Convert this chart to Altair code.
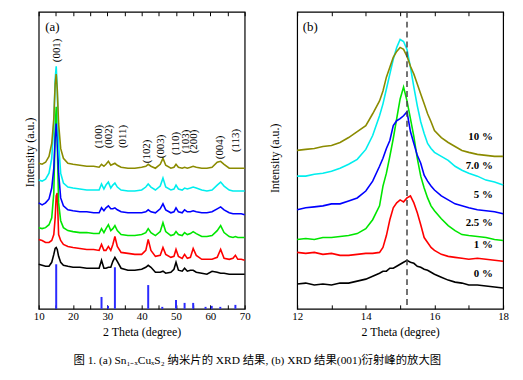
import altair as alt
import pandas as pd

FONT = "Liberation Serif"
CJK = "Liberation Serif, 'Noto Sans CJK SC'"

SERIES = ["0 %", "1 %", "2.5 %", "5 %", "7.0 %", "10 %"]
COLORS = ["#000000", "#ff0000", "#00e600", "#0000ff", "#00eeee", "#8b8b00"]

# ---------------- panel (a): full XRD patterns ----------------
A_X = [10, 11, 12, 13, 13.8, 14.4, 14.8, 15.1, 15.4, 15.8,
       16.4, 17.2, 18.5, 20, 22, 24, 26, 27.6, 28.3, 29.0,
       29.6, 30.3, 31.0, 31.6, 32.2, 32.9, 34, 36, 38, 40,
       41.2, 41.9, 42.7, 44, 45.4, 46.2, 47.0, 48.5, 49.4, 50.0,
       50.7, 51.8, 52.5, 53.3, 54.2, 55.0, 55.9, 57.5, 59, 60.5,
       62.0, 63.0, 64.0, 65.5, 66.6, 67.3, 68.0, 69, 70]
A_0 = [45, 44, 43, 43, 47, 55, 61, 62, 60, 53,
       47, 44, 43, 42, 42, 41, 41, 41, 49, 41,
       41, 42, 42, 48, 52, 48, 41, 39, 39, 40,
       42, 44, 42, 37, 37, 38, 36, 37, 40, 47,
       39, 38, 41, 38, 39, 39, 37, 36, 35, 38,
       37, 36, 36, 35, 35, 35, 35, 35, 35]
A_1 = [70, 69, 67, 67, 69, 75, 92, 114, 117, 75,
       69, 65, 63, 62, 61, 60, 60, 59, 65, 59,
       59, 63, 59, 65, 73, 63, 57, 56, 55, 55,
       59, 70, 59, 53, 54, 62, 55, 52, 53, 60,
       53, 51, 55, 51, 52, 61, 54, 50, 50, 50,
       52, 60, 51, 50, 51, 54, 50, 50, 49]
A_2 = [82, 81, 82, 85, 92, 117, 182, 204, 167, 107,
       89, 82, 79, 78, 77, 77, 76, 76, 81, 77,
       81, 85, 79, 81, 84, 79, 75, 74, 74, 75,
       77, 81, 77, 74, 78, 87, 78, 74, 75, 78,
       75, 74, 77, 75, 76, 78, 76, 73, 73, 74,
       79, 84, 77, 73, 72, 73, 72, 72, 72]
A_3 = [107, 105, 107, 111, 122, 142, 172, 187, 172, 137,
       112, 104, 100, 99, 98, 98, 97, 97, 102, 99,
       102, 104, 101, 101, 102, 100, 98, 97, 97, 97,
       98, 100, 98, 97, 101, 106, 100, 97, 98, 102,
       98, 97, 100, 98, 98, 99, 98, 97, 97, 98,
       101, 103, 100, 97, 96, 96, 96, 96, 95]
A_4 = [130, 129, 131, 137, 152, 187, 232, 245, 222, 167,
       137, 127, 123, 122, 121, 120, 120, 120, 126, 121,
       125, 128, 122, 125, 127, 123, 120, 119, 119, 120,
       123, 126, 123, 120, 124, 132, 123, 120, 121, 125,
       121, 120, 122, 121, 122, 123, 122, 120, 119, 120,
       125, 128, 124, 120, 119, 119, 119, 119, 119]
A_5 = [147, 146, 148, 154, 167, 192, 227, 237, 222, 187,
       162, 152, 147, 146, 145, 144, 144, 143, 146, 144,
       146, 149, 145, 146, 147, 145, 143, 142, 142, 143,
       144, 146, 144, 142, 146, 152, 145, 142, 143, 146,
       143, 142, 143, 142, 143, 144, 143, 142, 142, 143,
       148, 149, 146, 142, 142, 142, 142, 142, 142]

# reference (standard card) sticks
STICK_X = [15.1, 28.3, 30.2, 32.2, 41.9, 46.0, 50.0, 52.5, 55.0, 58.6, 60.4, 62.9, 67.3]
STICK_H = [45, 12, 3, 42, 24, 2, 9, 6, 6, 2, 3, 2, 4]

# Miller index labels
HKL = ["(001)", "(100)", "(002)", "(011)", "(102)", "(003)", "(110)", "(103)", "(200)", "(004)", "(113)"]
HKL_X = [15.2, 27.7, 30.6, 34.5, 41.6, 45.6, 50.0, 52.9, 55.2, 62.8, 67.4]
HKL_Y = [261, 174, 174, 174, 159, 164, 167, 169, 169, 163, 170]

# ---------------- panel (b): (001) peak zoom ----------------
B_X = [12.0, 12.25, 12.5, 12.75, 13.0, 13.25, 13.5, 13.75, 14.0, 14.2, 14.4,
       14.5, 14.6, 14.7, 14.8, 14.9, 15.0, 15.1, 15.2, 15.3, 15.4, 15.5, 15.6, 15.7, 15.8, 15.9,
       16.0, 16.2, 16.4, 16.6, 16.8, 17.0, 17.25, 17.5, 17.75, 18.0]
B_0 = [25, 26, 24, 25, 24, 26, 26, 28, 30, 33, 36,
       38, 38, 41, 41, 43, 45, 47, 49, 47, 46, 43, 42, 40, 39, 37,
       35, 32, 29, 27, 26, 24, 24, 23, 22, 21]
B_1 = [57, 56, 57, 55, 56, 54, 54, 55, 56, 56, 57,
       62, 74, 90, 102, 107, 110, 108, 112, 114, 107, 97, 85, 72, 67, 62,
       59, 55, 53, 52, 51, 50, 51, 50, 49, 48]
B_2 = [70, 71, 70, 72, 72, 73, 74, 76, 81, 90, 104,
       124, 137, 154, 172, 192, 212, 224, 210, 192, 174, 152, 134, 122, 112, 104,
       99, 91, 84, 79, 75, 74, 73, 72, 70, 69]
B_3 = [100, 102, 103, 104, 106, 106, 109, 112, 119, 129, 144,
       152, 162, 170, 185, 190, 192, 195, 199, 179, 167, 155, 147, 135, 129, 124,
       120, 114, 110, 106, 104, 102, 100, 99, 98, 96]
B_4 = [134, 134, 136, 137, 139, 142, 146, 151, 161, 175, 195,
       207, 222, 237, 252, 264, 272, 270, 262, 244, 224, 205, 189, 177, 167, 162,
       158, 154, 150, 144, 140, 137, 134, 130, 128, 125]
B_5 = [160, 161, 162, 164, 165, 168, 173, 179, 185, 197, 210,
       220, 234, 244, 254, 260, 264, 262, 255, 245, 237, 227, 217, 207, 197, 189,
       180, 173, 168, 164, 160, 158, 156, 155, 154, 154]

PCT = ["10 %", "7.0 %", "5 %", "2.5 %", "1 %", "0 %"]
PCT_X = [17.7, 17.7, 17.7, 17.7, 17.7, 17.7]
PCT_Y = [174, 144, 115, 87, 64, 35]
PEAK_REF = 15.2

Y_TITLE = "Intensity (a.u.)"
CAPTION = "图 1. (a) Sn₁₋ₓCuₓS₂ 纳米片的 XRD 结果, (b) XRD 结果(001)衍射峰的放大图"


def long_df(xs, ys_list):
    rows = []
    for k, (name, ys) in enumerate(zip(SERIES, ys_list)):
        for x, y in zip(xs, ys):
            rows.append({"deg": x, "inten": y, "series": name, "k": k})
    return pd.DataFrame(rows)


dfa = long_df(A_X, [A_0, A_1, A_2, A_3, A_4, A_5])
dfb = long_df(B_X, [B_0, B_1, B_2, B_3, B_4, B_5])
sticks = pd.DataFrame({"sx": STICK_X, "sh": STICK_H})
hkl = pd.DataFrame({"lx": HKL_X, "ly": HKL_Y, "lab": HKL})
pct = pd.DataFrame({"px": PCT_X, "py": PCT_Y, "pl": PCT})

W, H = 208, 300
color = alt.Color("series:N", scale=alt.Scale(domain=SERIES, range=COLORS), legend=None)


def yscale():
    return alt.Scale(domain=[0, 300], nice=False, zero=False)


def bottom_axis(values, label_mod):
    return alt.Axis(orient="bottom", values=values,
                    labelExpr=f"datum.value % {label_mod} == 0 ? datum.label : ''",
                    tickSize=4, offset=-4, domain=False, grid=False,
                    tickColor="black", tickWidth=1,
                    labelPadding=2, labelFlush=False, labelOverlap=False,
                    labelFont=FONT, labelFontSize=11, labelColor="black",
                    title="2 Theta (degree)", titlePadding=5,
                    titleFont=FONT, titleFontSize=12, titleFontWeight="normal",
                    titleColor="black")


def top_axis(values):
    return alt.Axis(orient="top", values=values, labels=False, tickSize=4, offset=-4,
                    domain=False, grid=False, tickColor="black", tickWidth=1, title=None)


def y_title(xscale, xpos, ypos):
    # axis title of the intensity axis, placed just left of the frame
    return alt.Chart(pd.DataFrame({"t": [Y_TITLE]})).mark_text(
        angle=270, font=FONT, fontSize=12, color="black", align="center",
        baseline="middle").encode(
        x=alt.X(datum=xpos, scale=xscale, axis=None),
        y=alt.Y(datum=ypos, scale=yscale(), axis=None),
        text="t:N",
    )


# ----- panel (a) -----
xa_scale = alt.Scale(domain=[10, 70], nice=False, zero=False)
a_vals = list(range(10, 71, 5))

a_lines = alt.Chart(dfa).mark_line(strokeWidth=1.6).encode(
    x=alt.X("deg:Q", scale=xa_scale, axis=bottom_axis(a_vals, 10)),
    y=alt.Y("inten:Q", scale=yscale(), axis=None),
    color=color,
    order=alt.Order("deg:Q"),
    detail="k:O",
)
a_sticks = alt.Chart(sticks).mark_rule(color="#2a2aff", strokeWidth=2).encode(
    x=alt.X("sx:Q", scale=xa_scale, axis=top_axis(a_vals)),
    y=alt.Y("sh:Q", scale=yscale(), axis=None),
    y2=alt.datum(0),
)
a_hkl = alt.Chart(hkl).mark_text(angle=270, font=FONT, fontSize=11, color="black",
                                 align="center", baseline="middle").encode(
    x=alt.X("lx:Q", scale=xa_scale, axis=None),
    y=alt.Y("ly:Q", scale=yscale(), axis=None),
    text="lab:N",
)
a_tag = alt.Chart(pd.DataFrame({"t": ["(a)"]})).mark_text(
    font=FONT, fontSize=13, color="black", align="center", baseline="middle").encode(
    x=alt.X(datum=14.0, scale=xa_scale, axis=None),
    y=alt.Y(datum=285, scale=yscale(), axis=None),
    text="t:N",
)
panel_a = alt.layer(a_lines, a_sticks, a_hkl, a_tag,
                    y_title(xa_scale, 7.4, 158)).properties(width=W, height=H)

# ----- panel (b) -----
xb_scale = alt.Scale(domain=[12, 18], nice=False, zero=False)
b_vals = [12, 13, 14, 15, 16, 17, 18]

b_lines = alt.Chart(dfb).mark_line(strokeWidth=1.6).encode(
    x=alt.X("deg:Q", scale=xb_scale, axis=bottom_axis(b_vals, 2)),
    y=alt.Y("inten:Q", scale=yscale(), axis=None),
    color=color,
    order=alt.Order("deg:Q"),
    detail="k:O",
)
b_ref = alt.Chart(pd.DataFrame({"r": [PEAK_REF]})).mark_rule(
    color="#444444", strokeWidth=1.5, strokeDash=[6, 4]).encode(
    x=alt.X("r:Q", scale=xb_scale, axis=None),
)
b_pct = alt.Chart(pct).mark_text(font=FONT, fontSize=11, fontWeight="bold", color="black",
                                 align="right", baseline="middle").encode(
    x=alt.X("px:Q", scale=xb_scale, axis=top_axis(b_vals)),
    y=alt.Y("py:Q", scale=yscale(), axis=None),
    text="pl:N",
)
b_tag = alt.Chart(pd.DataFrame({"t": ["(b)"]})).mark_text(
    font=FONT, fontSize=13, color="black", align="center", baseline="middle").encode(
    x=alt.X(datum=12.38, scale=xb_scale, axis=None),
    y=alt.Y(datum=285, scale=yscale(), axis=None),
    text="t:N",
)
panel_b = alt.layer(b_lines, b_ref, b_pct, b_tag,
                    y_title(xb_scale, 11.36, 152)).properties(width=W, height=H)

chart = alt.hconcat(panel_a, panel_b, spacing=17).resolve_scale(
    x="independent", y="independent"
).properties(
    title=alt.TitleParams(text=CAPTION, orient="bottom", anchor="middle", offset=17, dx=-9,
                          font=CJK, fontSize=11.5, fontWeight="normal", color="black"),
    padding={"left": 15, "top": 0, "right": 5, "bottom": 5},
).configure(background="white").configure_view(stroke="black", strokeWidth=1.2)

chart.save("out.html", embed_options={"renderer": "svg", "actions": False})
